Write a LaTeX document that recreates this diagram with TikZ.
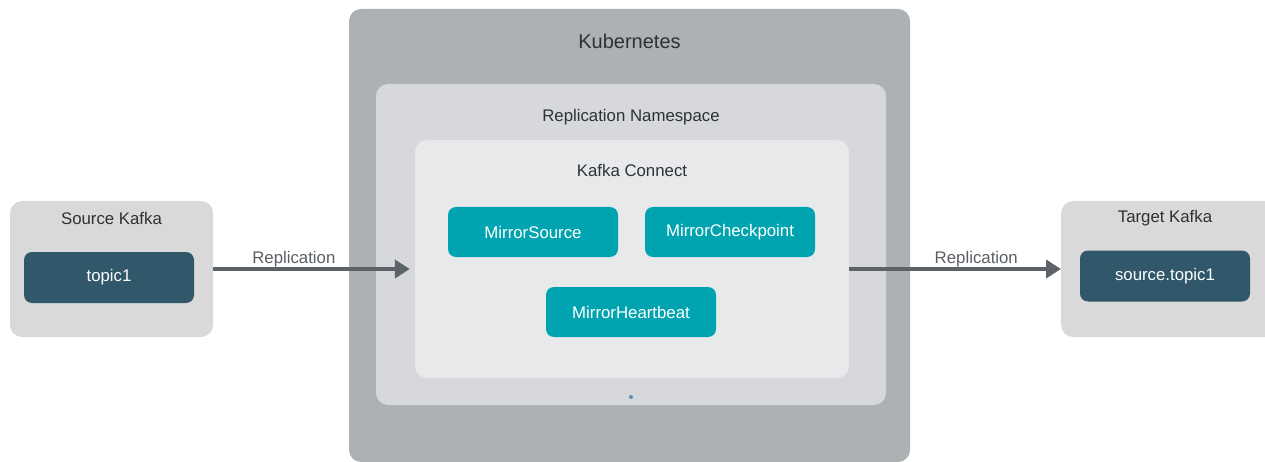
\documentclass[tikz,border=0pt]{standalone}
\usepackage{fontspec}
\setmainfont{Liberation Sans}
\usetikzlibrary{positioning,arrows.meta}
\definecolor{kgray}{HTML}{ADB1B4}
\definecolor{nsgray}{HTML}{D6D8DB}
\definecolor{kcgray}{HTML}{E8E9EB}
\definecolor{kafkagray}{HTML}{D9D9D9}
\definecolor{mteal}{HTML}{00A4B0}
\definecolor{topicblue}{HTML}{30576A}
\definecolor{arrowgray}{HTML}{5B6369}
\definecolor{txt}{HTML}{2E3135}
\definecolor{lbl}{HTML}{5A5F64}
\definecolor{dotblue}{HTML}{5A8DB0}
\begin{document}
\begin{tikzpicture}[x=1pt,y=-1pt,font=\fontsize{16.8}{20}\selectfont,line join=round,>={Triangle[length=15pt,width=18pt]}]
	\tikzset{box/.style={rounded corners=12pt,inner sep=0pt},
		mirror/.style={fill=mteal,rounded corners=8pt,minimum width=170pt,minimum height=50pt,inner sep=0pt,text=white},
		topic/.style={fill=topicblue,rounded corners=8pt,minimum width=170pt,minimum height=51pt,inner sep=0pt,text=white},
		title/.style={text=txt,inner sep=0pt},
		flow/.style={draw=arrowgray,line width=4pt,->,arrowgray}}
	\useasboundingbox (0,0) rectangle (1265,462);
	% kubernetes and namespace
	\node[box,fill=kgray,minimum width=561pt,minimum height=453pt] (k8s) at (629.5,235.5) {};
	\node[title,font=\fontsize{20}{24}\selectfont,below=25pt of k8s.north] (k8slabel) {Kubernetes};
	\node[box,fill=nsgray,minimum width=510pt,minimum height=321pt] (ns) at (631,244.5) {};
	\node[title,below=25pt of ns.north] (nslabel) {Replication Namespace};
	\node[box,fill=kcgray,minimum width=434pt,minimum height=238pt] (connect) at (632,259) {};
	\node[title,below=24pt of connect.north] (connectlabel) {Kafka Connect};
	\fill[dotblue] (631,397) circle (2pt);
	% connectors
	\node[mirror] (msource) at (533,232) {MirrorSource};
	\node[mirror] (mcheck) at (730,232) {MirrorCheckpoint};
	\node[mirror] (mheart) at (631,312) {MirrorHeartbeat};
	% source and target clusters
	\node[box,fill=kafkagray,minimum width=203pt,minimum height=136pt] (src) at (111.5,269) {};
	\node[title,below=11pt of src.north] (srclabel) {Source Kafka};
	\node[topic] (topic) at (109,277.5) {topic1};
	\node[box,fill=kafkagray,minimum width=230pt,minimum height=136pt,anchor=west] (tgt) at (1061,269) {};
	\node[topic] (tgttopic) at (1165,276) {source.topic1};
	\node[title,above=24pt of tgttopic] (tgtlabel) {Target Kafka};
	% replication arrows
	\draw[flow,shorten >=5pt] (src.east) -- (connect.west |- src) node[pos=0.4,above=-3pt,text=lbl]{Replication};
	\draw[flow] (connect.east |- tgt) -- (tgt.west) node[pos=0.6,above=-3pt,text=lbl]{Replication};
\end{tikzpicture}
\end{document}
